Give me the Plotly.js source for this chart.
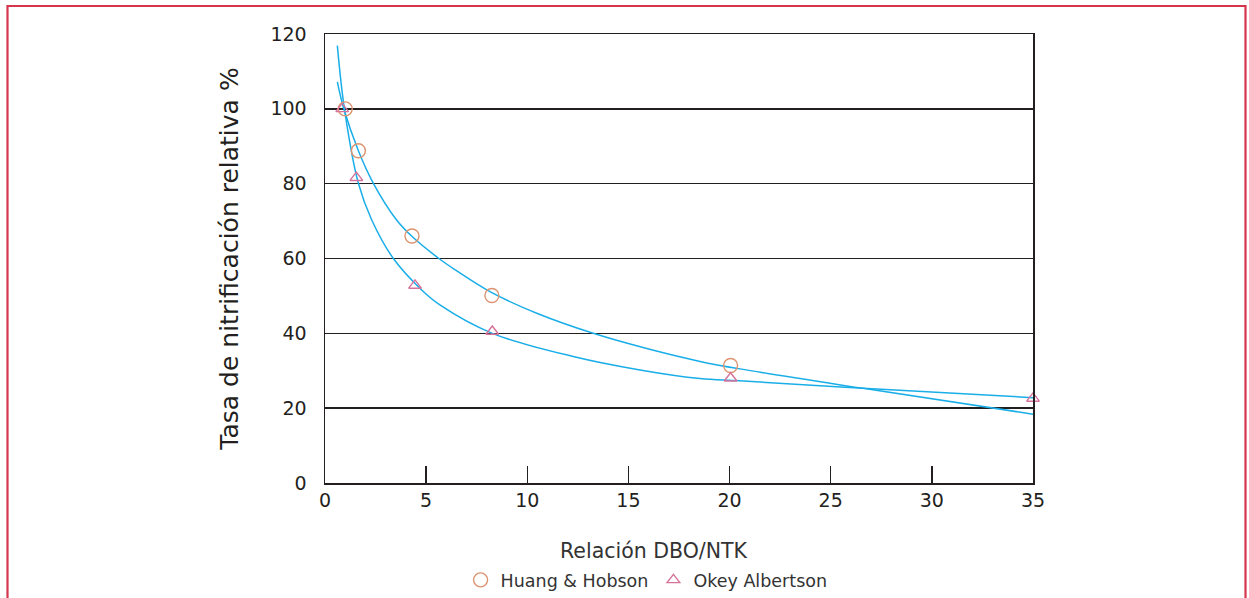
<!DOCTYPE html>
<html>
<head>
<meta charset="utf-8">
<script src="https://cdn.plot.ly/plotly-3.0.1.min.js"></script>
<style>
html,body{margin:0;padding:0;background:#fff;}
#chart{width:1249px;height:598px;}
</style>
</head>
<body>
<div id="chart"></div>
<script>
// Measured points
const huangX = [1.0, 1.65, 4.3, 8.25, 20.05];
const huangY = [100, 88.8, 66.0, 50.1, 31.4];
const okeyX = [0.85, 1.55, 4.45, 8.27, 20.05, 35.0];
const okeyY = [100, 81.6, 52.8, 40.5, 28.0, 22.6];

// Fitted curves, points
const huangCurveX = [0.61, 0.93, 1.65, 2.39, 3.54, 4.32, 5.68, 6.43, 8.27, 10.5, 13.26, 16.0, 18.54, 20.51, 26.6, 35.0];
const huangCurveY = [107.2, 100.0, 88.8, 80.1, 70.3, 65.8, 59.8, 57.0, 50.8, 45.3, 40.0, 35.8, 32.5, 30.5, 25.3, 18.4];
const okeyCurveX = [0.61, 0.96, 1.65, 2.31, 3.38, 4.78, 5.68, 8.27, 12.27, 15.57, 18.54, 20.51, 26.6, 35.0];
const okeyCurveY = [116.9, 100.0, 80.1, 70.3, 60.0, 51.6, 47.6, 40.0, 33.8, 30.2, 27.9, 27.3, 25.3, 22.8];

const xTicks = [0, 5, 10, 15, 20, 25, 30, 35];
const yTicks = [0, 20, 40, 60, 80, 100, 120];

const seriesNames = ["Huang & Hobson", "Okey Albertson"];
const xTitle = "Relación DBO/NTK";
const yTitle = "Tasa de nitrificación relativa %";

const curveColor = "#1aaee8";
const textColor = "#231f20";
const FONT = "DejaVu Sans, Open Sans, sans-serif";

const traces = [
  {x: huangCurveX, y: huangCurveY, mode: "lines", line: {color: curveColor, width: 1.5, shape: "spline", smoothing: 1}, showlegend: false, hoverinfo: "skip"},
  {x: okeyCurveX, y: okeyCurveY, mode: "lines", line: {color: curveColor, width: 1.5, shape: "spline", smoothing: 1}, showlegend: false, hoverinfo: "skip"},
  {x: huangX, y: huangY, mode: "markers", name: seriesNames[0], cliponaxis: false,
   marker: {symbol: "circle-open", size: 14, color: "#dc9470", line: {width: 1.4, color: "#dc9470"}}},
  {x: okeyX, y: okeyY, mode: "markers", name: seriesNames[1], cliponaxis: false,
   marker: {symbol: "triangle-up-open", size: 11, color: "#d5739b", line: {width: 1.4, color: "#d5739b"}}}
];

const layout = {
  width: 1249, height: 598,
  margin: {l: 325, r: 216, t: 34, b: 115, autoexpand: false},
  paper_bgcolor: "#ffffff", plot_bgcolor: "#ffffff",
  font: {family: FONT, color: textColor, size: 18},
  showlegend: true,
  legend: {orientation: "h", x: 0.1915, xanchor: "left", y: -0.216, yanchor: "middle",
           font: {family: FONT, size: 17.5, color: "#333333"}, bgcolor: "rgba(0,0,0,0)", itemwidth: 30, tracegroupgap: 0},
  xaxis: {
    range: [0, 35], tickmode: "array", tickvals: xTicks, ticktext: xTicks.map(String),
    ticks: "inside", ticklen: 17, tickwidth: 1.3, tickcolor: textColor,
    showline: true, linecolor: textColor, linewidth: 1.5, mirror: true,
    showgrid: false, zeroline: false,
    tickfont: {family: FONT, size: 19, color: textColor}
  },
  yaxis: {
    range: [0, 120], tickmode: "array", tickvals: yTicks, ticktext: yTicks.map(String),
    ticks: "", ticklabelstandoff: 13,
    showline: true, linecolor: textColor, linewidth: 1.5, mirror: true,
    showgrid: true, gridcolor: textColor, gridwidth: 1.5, zeroline: false,
    tickfont: {family: FONT, size: 19, color: textColor},
    title: {text: yTitle, font: {family: FONT, size: 25, color: textColor}, standoff: 24}
  },
  annotations: [
    {text: xTitle, xref: "paper", yref: "paper", x: (654 - 325) / 708, y: (483 - 551) / 449,
     xanchor: "center", yanchor: "middle", showarrow: false, font: {family: FONT, size: 20.5, color: "#333333"}}
  ],
  shapes: [
    {type: "path", xref: "paper", yref: "paper",
     path: "M " + ((7.5 - 325) / 708) + " " + ((483 - 620) / 449) +
           " L " + ((7.5 - 325) / 708) + " " + ((483 - 6) / 449) +
           " L " + ((1245.5 - 325) / 708) + " " + ((483 - 6) / 449) +
           " L " + ((1245.5 - 325) / 708) + " " + ((483 - 620) / 449),
     line: {color: "#d5354d", width: 2.2}, layer: "above"}
  ]
};

Plotly.newPlot("chart", traces, layout, {displayModeBar: false, staticPlot: true});
</script>
</body>
</html>
